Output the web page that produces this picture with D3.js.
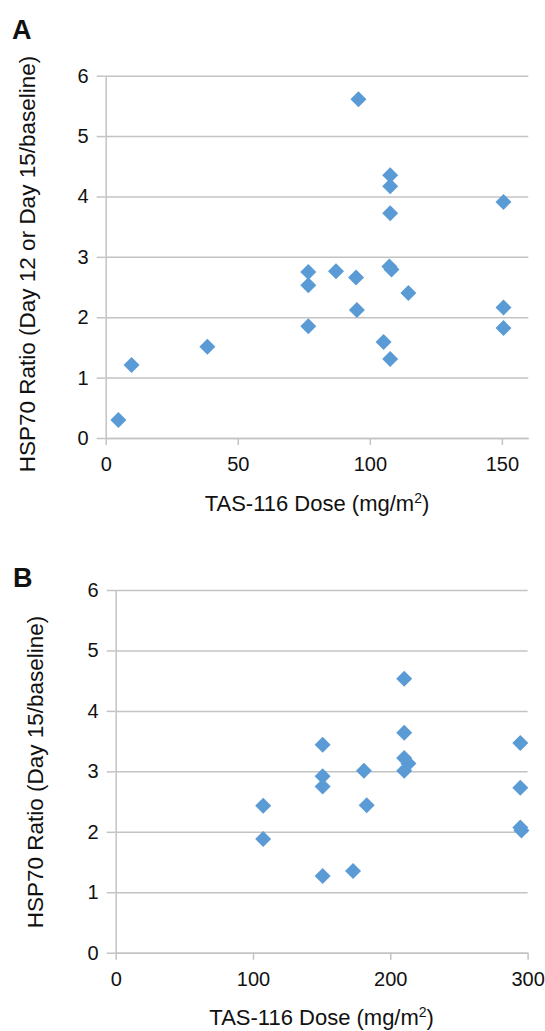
<!DOCTYPE html>
<html>
<head>
<meta charset="utf-8">
<script src="https://cdn.jsdelivr.net/npm/d3@7"></script>
<style>
  body { margin: 0; background: #fff; }
  text { font-family: "Liberation Sans", Arial, Helvetica, sans-serif; fill: #111; }
</style>
</head>
<body>
<script>
// Panel A: HSP70 ratio (day 12 or day 15 / baseline) vs dose
let doseA  = [4.8, 9.8, 38.5, 76.7, 76.7, 76.7, 87.2, 94.8, 95.1, 95.7, 107.4, 108.2, 105.2, 107.7, 107.7, 107.7, 107.7, 114.6, 150.6, 150.6, 150.6];
let ratioA = [0.30, 1.21, 1.51, 2.75, 2.53, 1.85, 2.76, 2.66, 2.12, 5.61, 2.84, 2.79, 1.59, 1.31, 3.72, 4.17, 4.35, 2.40, 3.91, 2.16, 1.82];
let xTicksA = [0, 50, 100, 150];

// Panel B: HSP70 ratio (day 15 / baseline) vs dose
let doseB  = [107.4, 107.4, 150.7, 150.7, 150.7, 150.7, 172.9, 180.8, 182.8, 210.1, 210.1, 210.1, 213.2, 210.1, 294.7, 294.7, 294.7, 295.5];
let ratioB = [2.43, 1.88, 3.44, 2.92, 2.75, 1.27, 1.35, 3.01, 2.44, 4.53, 3.64, 3.22, 3.13, 3.01, 3.47, 2.73, 2.07, 2.02];
let xTicksB = [0, 100, 200, 300];

let yTicks = [0, 1, 2, 3, 4, 5, 6];

let gridColor = "#c3c3c3";
let pointColor = "#5b9bd5";

let svg = d3.select("body").append("svg")
    .attr("width", 545)
    .attr("height", 1031)
    .style("background", "#fff");

function drawPanel(p) {
    let x = d3.scaleLinear().domain(p.xDomain).range([p.left, p.right]);
    let y = d3.scaleLinear().domain([0, 6]).range([p.bottom, p.top]);
    let w = p.right - p.left;

    // horizontal gridlines
    let grid = svg.append("g")
        .attr("transform", "translate(" + p.left + ",0)")
        .call(d3.axisLeft(y).tickValues(yTicks).tickSize(-w).tickFormat(""));
    grid.select(".domain").remove();
    grid.selectAll("line").attr("stroke", gridColor).attr("stroke-width", 1.5);

    // y axis with little ticks on the left
    let yAxis = svg.append("g")
        .attr("transform", "translate(" + p.left + ",0)")
        .call(d3.axisLeft(y).tickValues(yTicks).tickFormat(d3.format("d"))
            .tickSize(9).tickSizeOuter(0).tickPadding(8));
    yAxis.select(".domain").attr("stroke", gridColor).attr("stroke-width", 1.5);
    yAxis.selectAll("line").attr("stroke", gridColor).attr("stroke-width", 1.5);
    yAxis.selectAll("text").style("font-size", "20px").attr("fill", "#111");

    // x axis
    let xAxis = svg.append("g")
        .attr("transform", "translate(0," + p.bottom + ")")
        .call(d3.axisBottom(x).tickValues(p.xTicks).tickFormat(d3.format("d"))
            .tickSize(7).tickSizeOuter(0).tickPadding(12));
    xAxis.select(".domain").attr("stroke", gridColor).attr("stroke-width", 1.5);
    xAxis.selectAll("line").attr("stroke", gridColor).attr("stroke-width", 1.5);
    xAxis.selectAll("text").style("font-size", "20px").attr("fill", "#111");

    // diamonds
    let sym = d3.symbol().type(d3.symbolSquare).size(128);
    svg.append("g").selectAll("path")
        .data(p.dose)
        .enter()
        .append("path")
            .attr("d", sym)
            .attr("transform", function(d, i) {
                return "translate(" + x(d) + "," + y(p.ratio[i]) + ") rotate(45)";
            })
            .attr("fill", pointColor);

    // x title with superscript
    let xt = svg.append("text")
        .attr("x", (p.left + p.right) / 2)
        .attr("y", p.xTitleY)
        .attr("dy", "0.35em")
        .attr("text-anchor", "middle")
        .style("font-size", "22px");
    xt.append("tspan").text("TAS-116 Dose (mg/m");
    xt.append("tspan").text("2").attr("baseline-shift", "super").style("font-size", "14px");
    xt.append("tspan").text(")");

    // y title
    svg.append("text")
        .attr("transform", "translate(" + p.yTitleX + "," + p.yTitleY + ") rotate(-90)")
        .attr("dy", "0.35em")
        .attr("text-anchor", "middle")
        .style("font-size", "22.5px")
        .text(p.yTitle);

    // panel letter
    svg.append("text")
        .attr("x", p.letterX)
        .attr("y", p.letterY)
        .style("font-size", "27px")
        .style("font-weight", "bold")
        .text(p.letter);
}

drawPanel({
    dose: doseA, ratio: ratioA, xTicks: xTicksA, xDomain: [0, 160],
    left: 105.7, right: 528.3, top: 75.7, bottom: 438,
    xTitleY: 503.3, yTitleX: 27, yTitleY: 264,
    yTitle: "HSP70 Ratio (Day 12 or Day 15/baseline)",
    letter: "A", letterX: 12, letterY: 38.5
});

drawPanel({
    dose: doseB, ratio: ratioB, xTicks: xTicksB, xDomain: [0, 300],
    left: 115.7, right: 527.6, top: 590, bottom: 952.7,
    xTitleY: 1017, yTitleX: 34.8, yTitleY: 772,
    yTitle: "HSP70 Ratio (Day 15/baseline)",
    letter: "B", letterX: 13, letterY: 586.5
});
</script>
</body>
</html>
